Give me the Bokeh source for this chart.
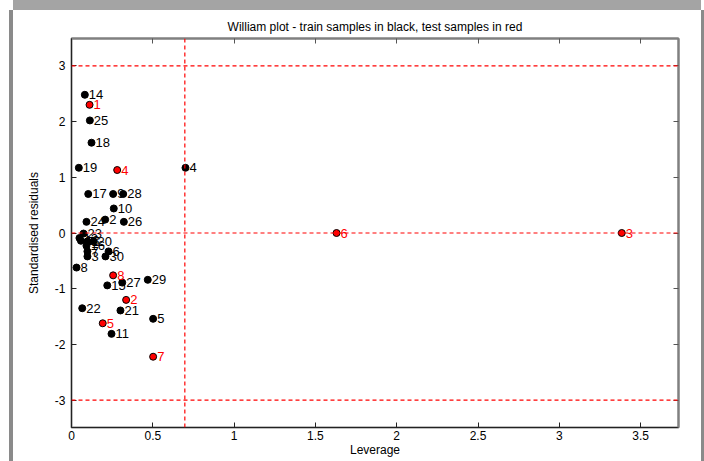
from bokeh.plotting import figure
from bokeh.models import ColumnDataSource, Span, LinearAxis, FixedTicker, Range1d, NumeralTickFormatter, Title
from bokeh.embed import file_html
from bokeh.resources import INLINE
from bokeh.core.properties import value

# ---- data ----
train_ids = ["14", "25", "18", "19", "4", "17", "9", "28", "10", "24", "2", "26",
             "23", "12", "13", "1", "20", "16", "7", "6", "3", "30", "8",
             "15", "27", "29", "22", "21", "5", "11"]
train_lev = [0.082, 0.113, 0.123, 0.045, 0.701, 0.103, 0.256, 0.318, 0.260, 0.092, 0.207, 0.322,
             0.074, 0.049, 0.058, 0.098, 0.135, 0.092, 0.098, 0.228, 0.098, 0.209, 0.031,
             0.220, 0.312, 0.469, 0.066, 0.301, 0.502, 0.246]
train_res = [2.48, 2.02, 1.62, 1.17, 1.17, 0.70, 0.70, 0.70, 0.44, 0.20, 0.24, 0.20,
             -0.01, -0.09, -0.14, -0.15, -0.15, -0.23, -0.33, -0.33, -0.42, -0.42, -0.62,
             -0.94, -0.89, -0.84, -1.35, -1.39, -1.54, -1.81]

test_ids = ["1", "2", "3", "4", "5", "6", "7", "8"]
test_lev = [0.111, 0.336, 3.384, 0.281, 0.192, 1.630, 0.502, 0.256]
test_res = [2.30, -1.20, 0.00, 1.13, -1.62, 0.00, -2.22, -0.76]

h_star = 0.697
res_limit = 3
x_ticks = [0, 0.5, 1, 1.5, 2, 2.5, 3, 3.5]
y_ticks = [-3, -2, -1, 0, 1, 2, 3]
title_text = "William plot - train samples in black, test samples in red"

FONT = "Liberation Sans"

p = figure(width=688, height=451, output_backend="svg", toolbar_location=None,
           x_range=Range1d(0, 3.733), y_range=Range1d(-3.49, 3.49),
           min_border_left=58, min_border_right=23, min_border_top=28, min_border_bottom=34)
# grey window frame drawn with shadows so it takes no layout space
p.styles = {"margin-left": "13px", "margin-top": "10px",
            "box-shadow": "0px -10px 0px 0px #a4a4a4, -4px 0px 0px 0px #8a8a8a, 3px 0px 0px 0px #8a8a8a"}

p.grid.visible = False
p.outline_line_color = "#808080"
p.outline_line_width = 2
p.background_fill_color = "white"
p.border_fill_color = "white"

for ax in (p.xaxis[0], p.yaxis[0]):
    ax.major_tick_in = 5
    ax.major_tick_out = 0
    ax.minor_tick_line_color = None
    ax.axis_line_color = "#222222"
    ax.major_tick_line_color = "#222222"
    ax.major_label_text_font = FONT
    ax.major_label_text_font_size = "12px"
    ax.major_label_text_color = "black"
    ax.axis_label_text_font = FONT
    ax.axis_label_text_font_size = "12px"
    ax.axis_label_text_font_style = "normal"
    ax.axis_label_text_color = "black"

p.xaxis[0].ticker = FixedTicker(ticks=x_ticks)
p.yaxis[0].ticker = FixedTicker(ticks=y_ticks)
p.xaxis[0].formatter = NumeralTickFormatter(format="0.[0]")
p.yaxis[0].formatter = NumeralTickFormatter(format="0")
p.xaxis[0].axis_label = "Leverage"
p.yaxis[0].axis_label = "Standardised residuals"
p.xaxis[0].axis_label_standoff = 0
p.yaxis[0].axis_label_standoff = 11
p.xaxis[0].major_label_standoff = 3
p.yaxis[0].major_label_standoff = 6

top = LinearAxis(ticker=FixedTicker(ticks=x_ticks), major_label_text_color=None,
                 major_label_text_font_size="0px", major_label_standoff=0,
                 major_tick_in=5, major_tick_out=0, minor_tick_line_color=None,
                 axis_line_color="#808080", axis_line_width=2, major_tick_line_color="#555555")
right = LinearAxis(ticker=FixedTicker(ticks=y_ticks), major_label_text_color=None,
                   major_label_text_font_size="0px", major_label_standoff=0,
                   major_tick_in=5, major_tick_out=0, minor_tick_line_color=None,
                   axis_line_color="#808080", axis_line_width=2, major_tick_line_color="#555555")
p.add_layout(top, "above")
p.add_layout(right, "right")

title = Title(text=title_text, align="center", text_font=FONT, text_font_size="12px",
              text_font_style="normal", text_color="black", standoff=10, offset=0)
p.add_layout(title, "above")

# reference lines
for loc in (res_limit, 0, -res_limit):
    p.add_layout(Span(location=loc, dimension="width", line_color="red",
                      line_dash="4 3", line_width=1.2))
p.add_layout(Span(location=h_star, dimension="height", line_color="red",
                  line_dash="4 3", line_width=1.2))

train = ColumnDataSource(dict(x=train_lev, y=train_res, t=train_ids))
test = ColumnDataSource(dict(x=test_lev, y=test_res, t=test_ids))

p.scatter("x", "y", source=train, size=7, fill_color="black", line_color="black")
p.scatter("x", "y", source=test, size=7, fill_color="#ff0000", line_color="black")

p.text("x", "y", text="t", source=train, x_offset=4, text_baseline="middle",
       text_font=value(FONT), text_font_size="13px", text_color="black")
p.text("x", "y", text="t", source=test, x_offset=4, text_baseline="middle",
       text_font=value(FONT), text_font_size="13px", text_color="#ff0000")

open("out.html", "w").write(file_html(p, INLINE))
